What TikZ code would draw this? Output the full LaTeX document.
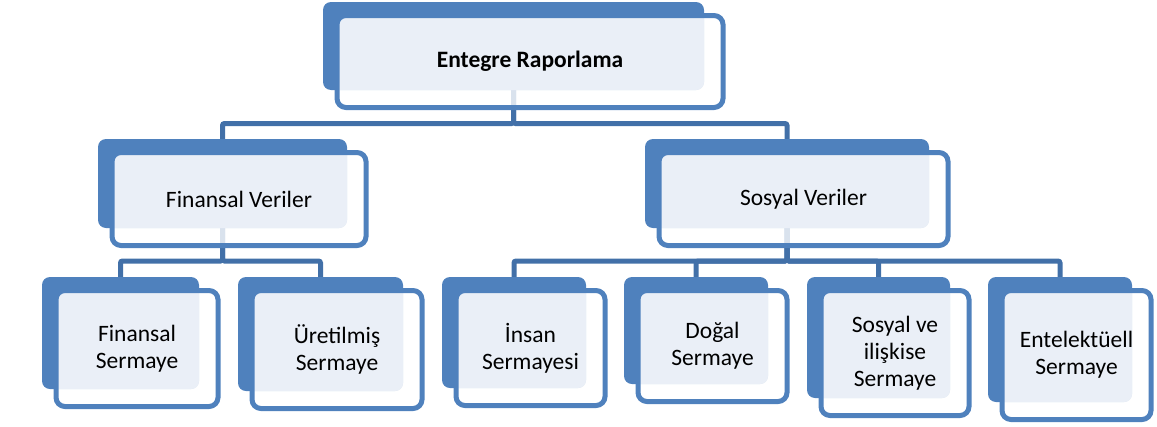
\documentclass[tikz,border=0pt]{standalone}
\usepackage{fontspec}
\setmainfont{Carlito}
\pgfdeclarelayer{wires}
\pgfsetlayers{wires,main}

\definecolor{backblue}{HTML}{4F81BD}
\definecolor{frameblue}{HTML}{4F81BD}
\definecolor{lightfill}{HTML}{EAEFF7}
\definecolor{wireblue}{HTML}{4270A8}

\tikzset{
  backbox/.style={rectangle, rounded corners=8pt, fill=backblue, inner sep=0pt},
  frontbox/.style={rectangle, rounded corners=9pt, draw=frameblue, line width=5pt,
    inner sep=0pt, align=center, text=black,
    font=\fontsize{23.5}{27}\selectfont},
  wire/.style={draw=wireblue, line width=5pt, rounded corners=2pt},
}

% #1 name, #2..#5 back box corners (x1,y1,x2,y2), #6 label
\newcommand\tierbox[6]{%
  \node[backbox, minimum width={(#4-#2)*1pt}, minimum height={(#5-#3)*1pt}]
    (#1b) at ({(#2+#4)/2},{(#3+#5)/2}) {};
  \path[fill=white, fill opacity=.8, rounded corners=9pt]
    (#2+14,#3+13.5) rectangle (#4+19,#5+17.5);
  \begin{scope}
    \clip[rounded corners=9pt] (#2+14,#3+13.5) rectangle (#4+19,#5+17.5);
    \fill[lightfill, rounded corners=8pt] (#2,#3) rectangle (#4,#5);
  \end{scope}
  \node[frontbox, minimum width={(#4-#2+5)*1pt}, minimum height={(#5-#3+4)*1pt}]
    (#1) at ({(#2+#4+33)/2},{(#3+#5+31)/2}) {#6};
}

\begin{document}
\begin{tikzpicture}[x=1pt, y=-1pt]
  \useasboundingbox (0,0) rectangle (1157,426);

  % boxes
  \tierbox{top}{323}{2}{704}{90}{\textbf{Entegre Raporlama}}
  \tierbox{fin}{98}{139}{347}{228}{Finansal Veriler}
  \tierbox{sos}{645}{139}{929}{228}{Sosyal Veriler}
  \tierbox{fs}{42}{277}{199}{389}{Finansal\\Sermaye}
  \tierbox{us}{238}{277}{403}{391}{Üretilmiş\\Sermaye}
  \tierbox{is}{442}{277}{586}{388}{İnsan\\Sermayesi}
  \tierbox{ds}{624}{277}{768}{384}{Doğal\\Sermaye}
  \tierbox{ss}{807}{277}{950}{398}{Sosyal ve\\ilişkise\\Sermaye}
  \tierbox{es}{988}{277}{1132}{402}{Entelektüell\\Sermaye}

  % bus levels
  \coordinate (busA) at (0,123.5);
  \coordinate (busB) at (0,261);

  % connectors, behind the boxes
  \begin{pgfonlayer}{wires}
    \foreach \c in {fin,sos}
      \draw[wire] (topb.south) -- (topb.south |- busA) -| (\c b.north);
    \foreach \c in {fs,us}
      \draw[wire] (finb.south) -- (finb.south |- busB) -| (\c b.north);
    \foreach \c in {is,ds,ss,es}
      \draw[wire] (sosb.south) -- (sosb.south |- busB) -| (\c b.north);
  \end{pgfonlayer}
\end{tikzpicture}
\end{document}
